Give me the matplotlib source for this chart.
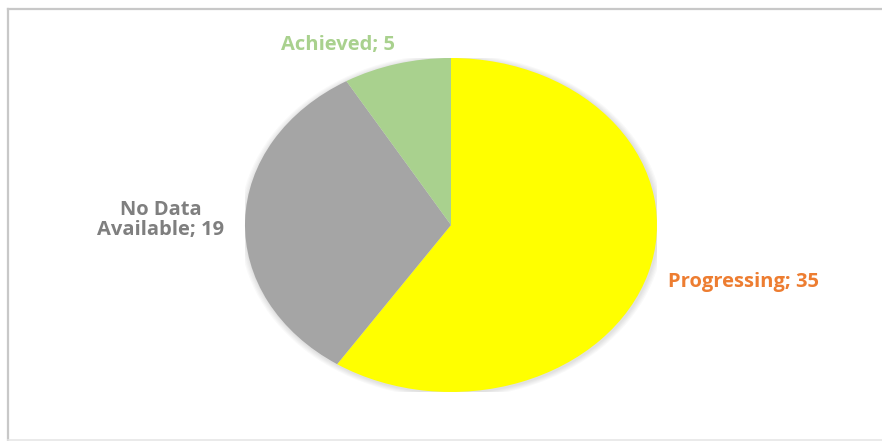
import matplotlib
matplotlib.use("Agg")
import matplotlib.pyplot as plt
from matplotlib.lines import Line2D
from matplotlib.patches import Circle

# status counts
statuses = ["Progressing", "No Data\nAvailable", "Achieved"]
counts = [35, 19, 5]
slice_colors = ["#FFFF00", "#A5A5A5", "#A9D18E"]
label_colors = ["#ED7D31", "#7F7F7F", "#A9D18E"]
# label anchor points in pie data units
label_xy = [(1.42, -0.34), (-1.41, 0.03), (-0.55, 1.08)]

W, H = 882, 441
fig = plt.figure(figsize=(W / 100, H / 100), dpi=100)
fig.patch.set_facecolor("white")

# chart border (left, top, bottom)
border = "#C8C8C8"
fig.add_artist(Line2D([7.5 / W, 7.5 / W], [1 / H, (H - 8.5) / H], color=border, lw=1.6))
fig.add_artist(Line2D([7.5 / W, 1.0], [(H - 8.5) / H, (H - 8.5) / H], color=border, lw=1.6))
fig.add_artist(Line2D([7.5 / W, 1.0], [1 / H, 1 / H], color="#E6E6E6", lw=1.2))

cx, cy, rx, ry = 451, 225, 206, 167
ax = fig.add_axes([(cx - rx) / W, (H - cy - ry) / H, 2 * rx / W, 2 * ry / H])

# soft shadow under the pie
for k in range(1, 6):
    ax.add_patch(Circle((0.004, -0.006), 1 + 0.006 * k, color="#000000",
                        alpha=0.025, lw=0, zorder=0))

ax.pie(counts, colors=slice_colors, startangle=90, counterclock=False,
       radius=1, wedgeprops=dict(linewidth=0), frame=False)
ax.set_aspect("auto")
ax.set_xlim(-1, 1)
ax.set_ylim(-1, 1)
ax.axis("off")

for name, n, (x, y), c in zip(statuses, counts, label_xy, label_colors):
    ax.text(x, y, f"{name}; {n}", ha="center", va="center", color=c,
            fontsize=14.5, fontweight="bold", family="Open Sans",
            linespacing=1.05, clip_on=False)

fig.savefig("out.png", dpi=100, facecolor="white")
